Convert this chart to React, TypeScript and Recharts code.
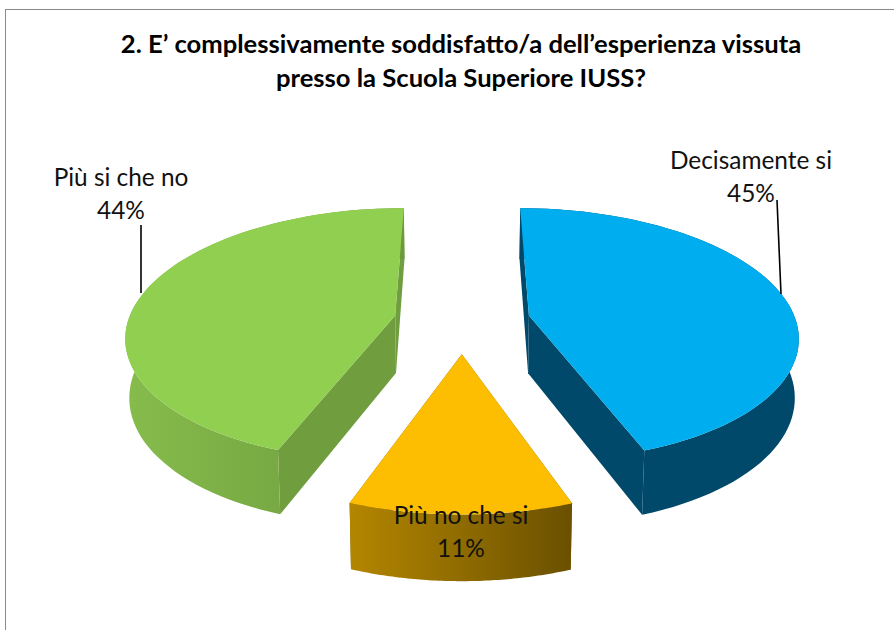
import { PieChart, Pie, Cell } from 'recharts';

const categories = ['Decisamente si', 'Più no che si', 'Più si che no'];
const shares = [44.5, 11.1, 44.4]; // printed rounded: 45, 11, 44
const topColors = ['#00AEEF', '#FDBD00', '#90CF50'];
const titleLines = ['2. E’ complessivamente soddisfatto/a dell’esperienza vissuta', 'presso la Scuola Superiore IUSS?'];

const chartData = categories.map((name, i) => ({ name, value: shares[i] }));

const FONT = 'Lato, sans-serif';
const RX = 267; // disc radius on screen
const RY = 125;
const PERSP = 0.15;
const EXPLODE = 0.256;
const DEPTH = 58;

// tilted disc with a bit of perspective, angle is clockwise from 12 o'clock
function project(cx: number, cy: number, u: number, v: number, low: boolean) {
  const s = 1 / (1 - PERSP * v);
  const shrink = low ? 0.988 : 1;
  return {
    x: cx + RX * u * s * shrink,
    y: cy + RY * v * s + (low ? DEPTH * (1 + 0.12 * v) : 0),
  };
}

const toPath = (pts: { x: number; y: number }[]) =>
  pts.map((p, i) => `${i ? 'L' : 'M'}${p.x.toFixed(1)} ${p.y.toFixed(1)}`).join(' ') + ' Z';

function Slice3D(props: any) {
  const { cx, cy, startAngle, endAngle, index } = props;
  const a0 = ((90 - startAngle) * Math.PI) / 180;
  const a1 = ((90 - endAngle) * Math.PI) / 180;
  const mid = (a0 + a1) / 2;
  const ou = Math.sin(mid) * EXPLODE;
  const ov = -Math.cos(mid) * EXPLODE;

  const arc = (low: boolean) => {
    const pts = [];
    for (let i = 0; i <= 72; i++) {
      const a = a0 + ((a1 - a0) * i) / 72;
      pts.push(project(cx, cy, ou + Math.sin(a), ov - Math.cos(a), low));
    }
    return pts;
  };
  const apex = (low: boolean) => project(cx, cy, ou, ov, low);
  const topArc = arc(false);
  const lowArc = arc(true);
  const last = topArc.length - 1;

  const cutStart = toPath([apex(false), topArc[0], lowArc[0], apex(true)]);
  const cutEnd = toPath([apex(false), topArc[last], lowArc[last], apex(true)]);
  const wall = toPath([...topArc, ...[...lowArc].reverse()]);
  const top = toPath([apex(false), ...topArc]);
  const cutFill = ['#00496A', '#7A5C00', '#709E3F'][index];
  const wallFill = ['#00496A', 'url(#wallOrange)', 'url(#wallGreen)'][index];

  return (
    <g>
      <path d={cutStart} fill={cutFill} />
      <path d={cutEnd} fill={cutFill} />
      <path d={wall} fill={wallFill} />
      <path d={top} fill={topColors[index]} />
    </g>
  );
}

const labelPlace: Record<string, { x: number; y: number; line?: number[] }> = {
  'Decisamente si': { x: 751, y: 169, line: [777, 200, 781, 294] },
  'Più no che si': { x: 461, y: 524 },
  'Più si che no': { x: 121, y: 186, line: [141, 225, 141, 293] },
};

function SliceLabel(props: any) {
  const { name, value } = props;
  const place = labelPlace[name];
  return (
    <g>
      {place.line && (
        <line
          x1={place.line[0]}
          y1={place.line[1]}
          x2={place.line[2]}
          y2={place.line[3]}
          stroke="#000"
          strokeWidth={1.6}
        />
      )}
      <text x={place.x} y={place.y} textAnchor="middle" fontFamily={FONT} fontSize={24.4} fill="#111">
        <tspan x={place.x}>{name}</tspan>
        <tspan x={place.x} dy={32.5}>{Math.round(value)}%</tspan>
      </text>
    </g>
  );
}

export default function App() {
  return (
    <div style={{ position: 'absolute', left: 0, top: 0, width: 894, height: 630, overflow: 'hidden', background: '#fff' }}>
      {/* chart frame, the bottom edge falls outside the picture */}
      <div
        style={{
          position: 'absolute',
          left: 5,
          top: 9,
          width: 900,
          height: 700,
          border: '1.5px solid #8a8a8a',
        }}
      />
      <div
        style={{
          position: 'absolute',
          left: 0,
          top: 26,
          width: 922,
          textAlign: 'center',
          fontFamily: FONT,
          fontWeight: 700,
          fontSize: 25.6,
          lineHeight: '34px',
          color: '#000',
        }}
      >
        {titleLines.map((t) => (
          <div key={t}>{t}</div>
        ))}
      </div>
      <div style={{ position: 'absolute', left: 0, top: 0 }}>
        <PieChart width={894} height={630} margin={{ top: 0, right: 0, bottom: 0, left: 0 }}>
          <defs>
            <linearGradient id="wallOrange" x1="0" y1="0" x2="1" y2="0">
              <stop offset="0" stopColor="#B48600" />
              <stop offset="1" stopColor="#6A5000" />
            </linearGradient>
            <linearGradient id="wallGreen" x1="0" y1="0" x2="1" y2="0">
              <stop offset="0" stopColor="#86BC4C" />
              <stop offset="1" stopColor="#6C993C" />
            </linearGradient>
          </defs>
          <Pie
            data={chartData}
            dataKey="value"
            nameKey="name"
            cx={462}
            cy={321}
            outerRadius={267}
            startAngle={90}
            endAngle={-270}
            paddingAngle={0}
            stroke="none"
            isAnimationActive={false}
            shape={Slice3D}
            label={SliceLabel}
            labelLine={false}
          >
            {chartData.map((d, i) => (
              <Cell key={d.name} fill={topColors[i]} />
            ))}
          </Pie>
        </PieChart>
      </div>
    </div>
  );
}
